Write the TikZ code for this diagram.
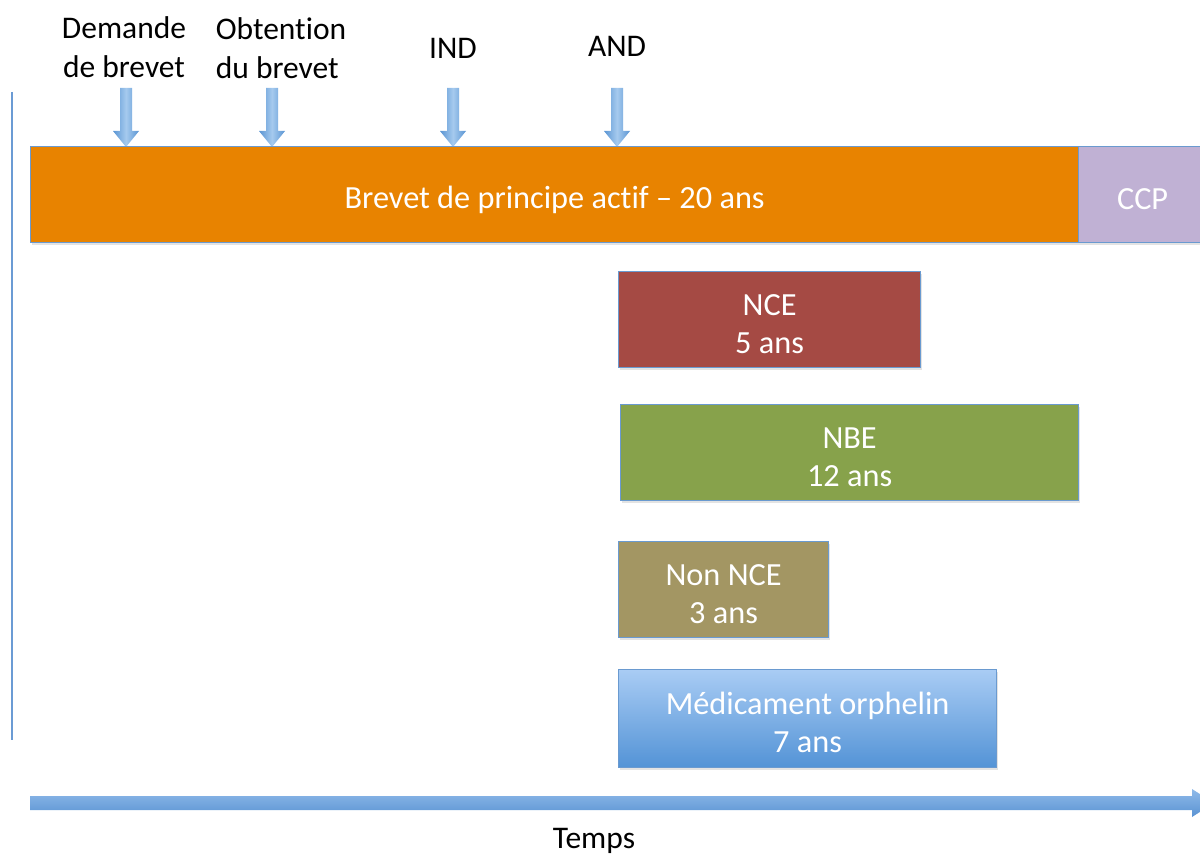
\documentclass[tikz,border=0pt]{standalone}
\usepackage{fontspec}
\setmainfont[Ligatures=NoCommon]{Carlito}
\usetikzlibrary{shadows}
\definecolor{edgeblue}{HTML}{6A9AD0}
\definecolor{axisline}{HTML}{6B9BD4}
\definecolor{brevetorange}{HTML}{E88300}
\definecolor{ccppurple}{HTML}{C0B1D4}
\definecolor{nceRed}{HTML}{A54A44}
\definecolor{nbeGreen}{HTML}{87A24B}
\definecolor{nonnceOlive}{HTML}{A39663}
\definecolor{orphTop}{HTML}{A9CCF4}
\definecolor{orphBot}{HTML}{5393D6}
\definecolor{tickEdge}{HTML}{5A95D3}
\definecolor{tickMid}{HTML}{A6CAEE}
\definecolor{axTop}{HTML}{8FBAE9}
\definecolor{axBot}{HTML}{5A93D3}
\tikzset{
  periodbox/.style={draw=edgeblue, line width=1.2pt, inner sep=0pt,
    anchor=north west,
    drop shadow={opacity=0.22, shadow xshift=1.5pt, shadow yshift=-2.5pt}},
  boxtext/.style={text=white, align=center, inner sep=0pt, yshift=-5pt,
    font=\fontsize{32.3}{38}\selectfont},
  milestone/.style={text=black, font=\fontsize{31.5}{39}\selectfont, inner sep=0pt},
  pics/tick/.style={code={
    \shade[left color=tickEdge, right color=tickEdge, middle color=tickMid]
      (-6,0) -- (-6,43) -- (-13,43) -- (0,59) -- (13,43) -- (6,43) -- (6,0) -- cycle;
  }}
}
\begin{document}
\begin{tikzpicture}[x=1pt,y=-1pt]
\useasboundingbox (0,0) rectangle (1200,856);
\clip (0,0) rectangle (1200,856);

% vertical frame line on the left
\draw[axisline, line width=2pt] (12,92) -- (12,740);

% milestone labels
\node[milestone, align=center] (demande) at (124,47) {Demande\\de brevet};
\node[milestone, align=left] (obtention) at (281,48) {Obtention\\du brevet};
\node[milestone] (ind) at (453,48) {IND};
\node[milestone] (and) at (617,46) {AND};

% milestone arrows
\pic at (126,88) {tick};
\pic at (272,88) {tick};
\pic at (453,88) {tick};
\pic at (617,88) {tick};

% protection periods
\node[periodbox, fill=brevetorange, minimum width=1048pt, minimum height=96pt,
  label={[boxtext]center:Brevet de principe actif – 20 ans}] (brevet) at (30,146) {};
\node[periodbox, fill=ccppurple, minimum width=130pt, minimum height=96pt,
  label={[boxtext, xshift=-1pt]center:CCP}] (ccp) at (1078,146) {};
\node[periodbox, fill=nceRed, minimum width=302pt, minimum height=96pt,
  label={[boxtext]center:NCE\\5 ans}] (nce) at (618,271) {};
\node[periodbox, fill=nbeGreen, minimum width=458pt, minimum height=96pt,
  label={[boxtext]center:NBE\\12 ans}] (nbe) at (620,404) {};
\node[periodbox, fill=nonnceOlive, minimum width=210pt, minimum height=96pt,
  label={[boxtext]center:Non NCE\\3 ans}] (nonnce) at (618,541) {};
\node[periodbox, top color=orphTop, bottom color=orphBot, minimum width=378pt, minimum height=98pt,
  label={[boxtext, yshift=1pt]center:Médicament orphelin\\7 ans}] (orph) at (618,669) {};

% time axis
\shade[top color=axTop, bottom color=axBot]
  (30,796) -- (1192,796) -- (1192,789) -- (1214,803) -- (1192,817) -- (1192,810) -- (30,810) -- cycle;
\node[milestone] (temps) at (594,841) {Temps};
\end{tikzpicture}
\end{document}
